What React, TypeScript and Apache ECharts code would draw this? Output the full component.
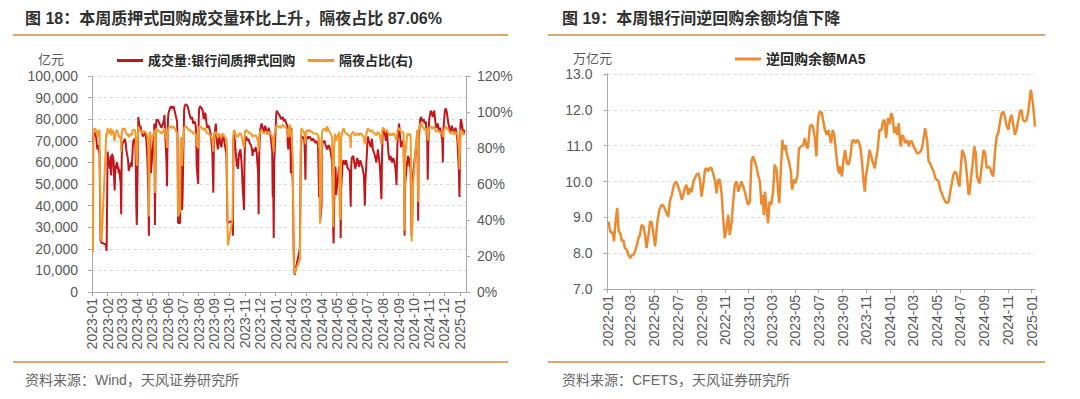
import React, { useEffect, useRef } from 'react';
import * as echarts from 'echarts';

// ---------- Figure 18: pledged repo volume (亿元) & overnight share (%) ----------
const repoDates: string[] = [
  '2023-01-03','2023-01-04','2023-01-05','2023-01-06','2023-01-09','2023-01-10','2023-01-11','2023-01-12','2023-01-13','2023-01-16','2023-01-17','2023-01-18','2023-01-19','2023-01-20','2023-01-28','2023-01-29','2023-01-30','2023-01-31',
  '2023-02-01','2023-02-02','2023-02-03','2023-02-06','2023-02-07','2023-02-08','2023-02-09','2023-02-10','2023-02-13','2023-02-14','2023-02-15','2023-02-16','2023-02-17','2023-02-20','2023-02-21','2023-02-22','2023-02-23','2023-02-24','2023-02-27','2023-02-28',
  '2023-03-01','2023-03-02','2023-03-03','2023-03-06','2023-03-07','2023-03-08','2023-03-09','2023-03-10','2023-03-13','2023-03-14','2023-03-15','2023-03-16','2023-03-17','2023-03-20','2023-03-21','2023-03-22','2023-03-23','2023-03-24','2023-03-27','2023-03-28','2023-03-29','2023-03-30','2023-03-31',
  '2023-04-03','2023-04-04','2023-04-06','2023-04-07','2023-04-10','2023-04-12','2023-04-14','2023-04-17','2023-04-19','2023-04-21','2023-04-23','2023-04-24','2023-04-25','2023-04-26','2023-04-27','2023-04-28',
  '2023-05-04','2023-05-05','2023-05-06','2023-05-08','2023-05-09','2023-05-10','2023-05-11','2023-05-15','2023-05-17','2023-05-19','2023-05-22','2023-05-24','2023-05-25','2023-05-26','2023-05-29','2023-05-30','2023-05-31',
  '2023-06-01','2023-06-02','2023-06-05','2023-06-07','2023-06-09','2023-06-12','2023-06-14','2023-06-16','2023-06-19','2023-06-20','2023-06-21','2023-06-25','2023-06-26','2023-06-27','2023-06-28','2023-06-29','2023-06-30',
  '2023-07-03','2023-07-04','2023-07-06','2023-07-10','2023-07-12','2023-07-14','2023-07-17','2023-07-19','2023-07-21','2023-07-24','2023-07-26','2023-07-27','2023-07-28','2023-07-31',
  '2023-08-01','2023-08-02','2023-08-04','2023-08-07','2023-08-09','2023-08-11','2023-08-14','2023-08-16','2023-08-18','2023-08-21','2023-08-23','2023-08-25','2023-08-28','2023-08-30','2023-08-31',
  '2023-09-01','2023-09-04','2023-09-06','2023-09-08','2023-09-11','2023-09-13','2023-09-15','2023-09-18','2023-09-20','2023-09-22','2023-09-25','2023-09-26','2023-09-27','2023-09-28',
  '2023-10-07','2023-10-08','2023-10-09','2023-10-10','2023-10-12','2023-10-13','2023-10-16','2023-10-17','2023-10-18','2023-10-20','2023-10-23','2023-10-25','2023-10-26','2023-10-27','2023-10-30','2023-10-31',
  '2023-11-01','2023-11-03','2023-11-06','2023-11-08','2023-11-10','2023-11-13','2023-11-15','2023-11-16','2023-11-17','2023-11-20','2023-11-22','2023-11-24','2023-11-27','2023-11-28','2023-11-29','2023-11-30',
  '2023-12-01','2023-12-04','2023-12-06','2023-12-08','2023-12-11','2023-12-13','2023-12-15','2023-12-18','2023-12-20','2023-12-22','2023-12-25','2023-12-26','2023-12-27','2023-12-28','2023-12-29',
  '2024-01-02','2024-01-03','2024-01-05','2024-01-08','2024-01-10','2024-01-12','2024-01-15','2024-01-17','2024-01-19','2024-01-22','2024-01-24','2024-01-25','2024-01-26','2024-01-29','2024-01-30','2024-01-31',
  '2024-02-01','2024-02-02','2024-02-04','2024-02-05','2024-02-06','2024-02-07','2024-02-08','2024-02-09','2024-02-18','2024-02-19','2024-02-20','2024-02-21','2024-02-23','2024-02-26','2024-02-27','2024-02-28','2024-02-29',
  '2024-03-01','2024-03-04','2024-03-06','2024-03-08','2024-03-11','2024-03-13','2024-03-15','2024-03-18','2024-03-20','2024-03-22','2024-03-25','2024-03-26','2024-03-27','2024-03-28','2024-03-29',
  '2024-04-01','2024-04-02','2024-04-03','2024-04-07','2024-04-09','2024-04-11','2024-04-12','2024-04-15','2024-04-17','2024-04-19','2024-04-22','2024-04-23','2024-04-24','2024-04-25','2024-04-26','2024-04-28','2024-04-29','2024-04-30',
  '2024-05-06','2024-05-07','2024-05-08','2024-05-09','2024-05-10','2024-05-13','2024-05-15','2024-05-17','2024-05-20','2024-05-22','2024-05-24','2024-05-27','2024-05-28','2024-05-29','2024-05-30','2024-05-31',
  '2024-06-03','2024-06-05','2024-06-07','2024-06-11','2024-06-13','2024-06-14','2024-06-17','2024-06-19','2024-06-21','2024-06-24','2024-06-25','2024-06-26','2024-06-27','2024-06-28',
  '2024-07-01','2024-07-02','2024-07-04','2024-07-08','2024-07-10','2024-07-12','2024-07-15','2024-07-17','2024-07-19','2024-07-22','2024-07-24','2024-07-26','2024-07-29','2024-07-30','2024-07-31',
  '2024-08-01','2024-08-05','2024-08-07','2024-08-09','2024-08-12','2024-08-14','2024-08-16','2024-08-19','2024-08-21','2024-08-23','2024-08-26','2024-08-28','2024-08-29','2024-08-30',
  '2024-09-02','2024-09-04','2024-09-06','2024-09-09','2024-09-11','2024-09-12','2024-09-13','2024-09-14','2024-09-18','2024-09-20','2024-09-23','2024-09-24','2024-09-25','2024-09-26','2024-09-27','2024-09-29','2024-09-30',
  '2024-10-08','2024-10-09','2024-10-10','2024-10-11','2024-10-14','2024-10-16','2024-10-18','2024-10-21','2024-10-23','2024-10-25','2024-10-28','2024-10-29','2024-10-30','2024-10-31',
  '2024-11-01','2024-11-04','2024-11-06','2024-11-08','2024-11-11','2024-11-13','2024-11-15','2024-11-18','2024-11-20','2024-11-22','2024-11-25','2024-11-27','2024-11-28','2024-11-29',
  '2024-12-02','2024-12-04','2024-12-06','2024-12-09','2024-12-11','2024-12-13','2024-12-16','2024-12-18','2024-12-20','2024-12-23','2024-12-25','2024-12-27','2024-12-30','2024-12-31',
  '2025-01-02','2025-01-03','2025-01-06','2025-01-08','2025-01-10',
];

const repoVolume: number[] = [
  70000,72000,73000,74000,72000,70000,67000,66000,68000,64000,45000,24000,23000,23000,22000,21000,19000,41000,
  65000,62000,60000,57000,63000,54000,58000,64000,61000,52000,47000,55000,58000,60000,57000,58000,55000,57000,50000,36000,
  62000,68000,69000,70000,71000,70000,69000,66000,62000,60000,56000,57000,58000,60000,58000,62000,67000,70000,71000,69000,60000,40000,31000,
  81000,79000,76000,77000,74000,72000,73000,74000,70000,62000,45000,26000,60000,72000,70000,55000,
  73000,78000,31000,76000,80000,79000,80000,78000,77000,76000,78000,80000,82000,76000,60000,49000,70000,
  80000,83000,85000,86000,85000,86000,84000,82000,79000,70000,32000,32000,55000,70000,60000,38000,45000,
  84000,86000,87000,86000,84000,82000,80000,81000,78000,79000,77000,72000,58000,50000,
  80000,85000,86000,85000,84000,80000,83000,79000,76000,77000,75000,73000,65000,46000,66000,
  72000,78000,70000,66000,72000,69000,67000,73000,71000,68000,64000,50000,33000,32000,
  33000,26000,70000,73000,70000,66000,58000,62000,57000,64000,66000,60000,56000,50000,38000,60000,
  70000,72000,70000,71000,69000,68000,66000,63000,66000,65000,67000,65000,55000,36000,62000,70000,
  75000,78000,76000,74000,77000,75000,73000,76000,74000,72000,65000,44000,50000,25000,60000,
  82000,84000,83000,82000,81000,80000,81000,79000,80000,78000,77000,68000,66000,77000,75000,55000,
  76000,60000,50000,30000,15000,9000,8000,10000,20000,45000,66000,71000,72000,71000,70000,62000,52000,
  70000,72000,71000,72000,71000,70000,71000,70000,69000,70000,68000,58000,44000,60000,32000,
  40000,66000,69000,70000,68000,67000,66000,68000,67000,65000,60000,52000,30000,22500,40000,58000,57000,45000,
  58000,50000,56000,25000,48000,60000,61000,59000,61000,58000,57000,56000,48000,39500,58000,62000,
  63000,60000,57000,62000,60000,58000,61000,59000,58000,54000,48000,40000,50000,55000,
  68000,72000,70000,67000,71000,66000,64000,62000,60000,66000,62000,58000,43000,60000,70000,
  76000,73000,70000,74000,64000,61000,63000,60000,62000,61000,57000,49500,62000,70000,
  78000,72000,67000,70000,68000,55000,26000,50000,60000,63000,58000,62000,55000,40000,26000,50000,55000,
  72000,60000,33000,70000,80000,81000,79000,80000,78000,79000,70000,52000,66000,75000,
  80000,84000,83000,81000,84000,79000,76000,78000,74000,76000,73000,70000,60000,75000,
  84000,85000,83000,78000,76000,74000,77000,75000,73000,76000,74000,70000,55000,44000,
  78000,80000,76000,73000,75000,
];

const overnightShare: number[] = [
  22,88,90,91,90,89,88,86,89,90,62,33,30,28,78,88,86,88,
  91,89,90,88,91,87,89,90,88,85,84,87,89,90,89,88,86,87,85,78,
  88,90,91,90,91,90,89,88,87,88,86,86,87,88,87,89,90,90,90,89,86,76,70,
  92,91,90,90,89,88,89,89,88,87,80,42,75,89,88,85,
  88,90,55,90,91,91,90,89,89,88,89,90,91,88,85,80,86,
  89,91,92,92,91,92,91,90,88,84,42,45,80,86,84,70,78,
  91,92,92,91,90,90,89,89,88,88,88,86,82,80,
  90,92,92,91,91,90,91,89,88,88,87,87,85,78,86,
  88,89,87,86,88,87,86,88,87,86,85,80,40,26,
  40,60,88,90,89,88,86,87,86,88,88,87,85,84,80,86,
  89,90,89,89,88,88,87,86,87,87,87,86,84,78,86,88,
  89,90,89,88,89,89,88,89,88,88,86,84,84,78,87,
  92,93,92,92,91,92,93,92,92,91,90,87,86,93,92,86,
  90,85,72,38,18,11,10,12,18,45,85,91,90,89,89,86,82,
  89,90,89,90,89,89,88,88,88,88,87,85,80,86,38,
  60,88,90,91,90,89,92,90,89,88,86,70,36,47,80,88,88,84,
  89,42,80,40,86,90,91,89,88,88,87,87,85,80,87,88,
  89,88,87,88,88,87,88,88,87,86,84,82,85,86,
  90,91,90,89,90,89,88,88,87,89,88,87,82,87,90,
  91,90,89,90,88,87,88,87,88,88,86,84,88,90,
  91,90,89,89,88,60,34,75,87,88,87,88,86,60,28,40,60,
  90,88,50,90,93,94,92,91,90,91,88,84,88,90,
  91,92,91,91,92,90,89,90,89,89,88,88,86,89,
  91,92,91,90,89,88,89,89,88,89,88,88,80,68,
  90,90,89,88,87.06,
];

const leftTickLabels: string[] = [
  '2023-01','2023-02','2023-03','2023-04','2023-05','2023-06','2023-07','2023-08','2023-09','2023-10','2023-11','2023-12',
  '2024-01','2024-02','2024-03','2024-04','2024-05','2024-06','2024-07','2024-08','2024-09','2024-10','2024-11','2024-12','2025-01',
];

// ---------- Figure 19: interbank reverse repo balance MA5 (万亿元) ----------
const revRepoDates: string[] = [
  '2022-01-04','2022-01-07','2022-01-11','2022-01-14','2022-01-18','2022-01-21','2022-01-26','2022-01-30','2022-02-03','2022-02-07','2022-02-11','2022-02-15','2022-02-20','2022-02-24',
  '2022-03-01','2022-03-05','2022-03-09','2022-03-13','2022-03-18','2022-03-22','2022-03-26','2022-03-30','2022-04-04','2022-04-08','2022-04-12','2022-04-17','2022-04-21','2022-04-25','2022-04-30',
  '2022-05-04','2022-05-10','2022-05-15','2022-05-21','2022-05-27','2022-06-01','2022-06-07','2022-06-11','2022-06-16','2022-06-22','2022-06-27',
  '2022-07-01','2022-07-07','2022-07-12','2022-07-16','2022-07-20','2022-07-24','2022-07-29','2022-08-02','2022-08-06','2022-08-11','2022-08-15','2022-08-19','2022-08-24','2022-08-28',
  '2022-09-01','2022-09-06','2022-09-10','2022-09-14','2022-09-18','2022-09-23','2022-09-27','2022-10-01','2022-10-06','2022-10-10','2022-10-14','2022-10-18','2022-10-23','2022-10-27','2022-10-31',
  '2022-11-05','2022-11-09','2022-11-13','2022-11-18','2022-11-22','2022-11-26','2022-12-01','2022-12-05','2022-12-09','2022-12-13','2022-12-18','2022-12-22','2022-12-26','2022-12-30',
  '2023-01-04','2023-01-08','2023-01-12','2023-01-17','2023-01-21','2023-01-25','2023-01-30','2023-02-03','2023-02-06','2023-02-09','2023-02-12','2023-02-16','2023-02-20','2023-02-24','2023-02-28',
  '2023-03-05','2023-03-09','2023-03-14','2023-03-18','2023-03-21','2023-03-24','2023-03-29','2023-04-02','2023-04-06','2023-04-10','2023-04-15','2023-04-20','2023-04-23','2023-04-28',
  '2023-05-02','2023-05-07','2023-05-11','2023-05-17','2023-05-22','2023-05-26','2023-05-30','2023-06-03','2023-06-08','2023-06-12','2023-06-16','2023-06-21','2023-06-25','2023-06-28',
  '2023-06-30','2023-07-04','2023-07-09','2023-07-13','2023-07-17','2023-07-22','2023-07-26','2023-07-30','2023-08-02','2023-08-06','2023-08-10','2023-08-14','2023-08-19','2023-08-23','2023-08-25','2023-08-30',
  '2023-09-03','2023-09-07','2023-09-12','2023-09-16','2023-09-21','2023-09-25','2023-09-29','2023-10-04','2023-10-08','2023-10-12','2023-10-17','2023-10-21','2023-10-25','2023-10-28','2023-10-31',
  '2023-11-06','2023-11-09','2023-11-14','2023-11-17','2023-11-23','2023-11-26','2023-11-30','2023-12-05','2023-12-10','2023-12-14','2023-12-18','2023-12-22','2023-12-27','2023-12-31',
  '2024-01-04','2024-01-08','2024-01-12','2024-01-16','2024-01-20','2024-01-24','2024-01-27','2024-01-29','2024-02-02','2024-02-06','2024-02-10','2024-02-15','2024-02-19','2024-02-23','2024-02-27',
  '2024-03-02','2024-03-07','2024-03-11','2024-03-15','2024-03-20','2024-03-24','2024-03-28','2024-04-01','2024-04-06','2024-04-10','2024-04-14','2024-04-19','2024-04-23','2024-04-27',
  '2024-05-01','2024-05-06','2024-05-10','2024-05-14','2024-05-19','2024-05-23','2024-05-28','2024-06-01','2024-06-05','2024-06-09','2024-06-13','2024-06-18','2024-06-22','2024-06-26','2024-06-29',
  '2024-07-03','2024-07-06','2024-07-11','2024-07-15','2024-07-19','2024-07-22','2024-07-24','2024-07-29','2024-08-02','2024-08-06','2024-08-10','2024-08-13','2024-08-17','2024-08-20','2024-08-23','2024-08-27','2024-08-30',
  '2024-09-03','2024-09-07','2024-09-11','2024-09-16','2024-09-20','2024-09-24','2024-09-29','2024-10-03','2024-10-07','2024-10-11','2024-10-16','2024-10-20','2024-10-24','2024-10-28',
  '2024-11-02','2024-11-06','2024-11-10','2024-11-15','2024-11-19','2024-11-23','2024-11-28','2024-12-02','2024-12-06','2024-12-10','2024-12-15','2024-12-19','2024-12-23','2024-12-28','2024-12-30',
  '2025-01-03','2025-01-07','2025-01-10',
];

const revRepoBalance: number[] = [
  8.88,8.65,8.56,8.6,8.33,8.79,9.26,8.6,8.56,8.33,8.37,8.14,8.09,7.95,
  7.86,7.95,7.95,8.05,8.23,8.42,8.51,8.79,8.74,8.51,8.14,8.51,8.88,8.88,8.51,
  8.19,8.88,9.21,9.35,9.3,9.16,9.02,9.44,9.63,9.91,10.0,
  9.91,9.72,9.49,9.63,9.82,9.91,9.63,9.82,9.7,10.0,10.1,10.19,10.23,10.05,
  9.58,9.95,10.33,10.37,10.28,10.39,10.37,10.23,10.0,9.67,10.05,10.05,9.67,8.98,8.42,
  8.7,9.07,8.51,8.88,9.44,9.91,10.0,9.72,9.86,10.0,9.86,9.72,9.53,9.35,
  9.44,10.56,10.7,10.56,10.42,10.19,10.0,9.35,9.63,9.07,9.72,9.26,8.84,9.44,9.35,
  9.72,10.47,10.33,9.72,9.4,10.1,11.16,10.88,11.02,10.74,10.56,10.28,9.77,10.05,
  9.95,10.19,10.93,10.98,11.02,11.21,10.98,10.93,11.53,11.58,11.53,11.21,10.7,11.53,
  11.81,11.95,11.91,11.67,11.44,11.3,11.44,11.21,11.07,11.44,11.3,10.88,10.37,10.23,10.42,10.14,
  10.6,10.88,10.51,10.47,10.7,11.12,11.16,11.07,11.16,11.12,10.93,10.51,10.0,9.72,10.14,
  10.56,10.88,10.7,10.56,10.37,10.6,10.88,11.44,11.44,11.67,11.72,11.21,11.77,11.6,
  11.91,11.81,11.35,11.53,11.3,11.63,11.12,10.98,11.3,11.21,11.07,11.16,10.98,11.12,11.12,
  10.98,10.88,10.79,10.79,10.84,10.93,11.21,11.49,11.16,10.56,10.51,10.37,10.28,10.1,
  10.05,10.0,9.77,9.67,9.53,9.44,9.4,9.44,9.72,9.95,10.19,10.28,10.19,9.95,9.86,
  10.51,10.88,10.74,10.51,10.05,9.67,9.63,10.14,10.51,10.98,10.79,10.14,10.0,9.95,10.23,10.6,10.88,
  10.79,10.37,10.42,10.37,10.23,10.14,10.88,11.26,11.35,11.63,11.91,11.95,11.81,11.58,
  11.44,11.72,11.86,11.58,11.3,11.44,11.72,11.95,12.0,11.72,11.67,11.72,11.91,12.37,12.56,
  12.3,11.91,11.53,
];

const rightTickLabels: string[] = [
  '2022-01','2022-03','2022-05','2022-07','2022-09','2022-11','2023-01','2023-03','2023-05','2023-07','2023-09','2023-11',
  '2024-01','2024-03','2024-05','2024-07','2024-09','2024-11','2025-01',
];

// ---------- helpers ----------
const ts = (s: string): number => {
  const [y, m, d] = s.split('-').map(Number);
  return new Date(y, m - 1, d || 1).getTime();
};
const monthFmt = (v: number): string => {
  const d = new Date(v);
  return d.getFullYear() + '-' + String(d.getMonth() + 1).padStart(2, '0');
};
const commas = (v: number): string => String(Math.round(v)).replace(/\B(?=(\d{3})+(?!\d))/g, ',');

const FONT = '"Liberation Sans", Arial, "Noto Sans CJK SC", sans-serif';
const AXIS = '#a9a9a9';
const LABEL = '#595959';
const GRID = '#d9d9d9';
const RED = '#c3161c';
const ORANGE = '#f39a2b';
const MA_ORANGE = '#ec8a2f';
const RULE = '#d6a96e';

export default function App() {
  const ref = useRef<HTMLDivElement>(null);

  useEffect(() => {
    if (!ref.current) return;
    const chart = echarts.init(ref.current, undefined, { renderer: 'svg' });

    const leftTicks = leftTickLabels.map((s) => ts(s));
    const rightTicks = rightTickLabels.map((s) => ts(s));

    const xCommon = (ticks: number[]) => ({
      type: 'value' as const,
      scale: true,
      axisLine: { show: true, onZero: false, lineStyle: { color: AXIS, width: 1 } },
      axisTick: { show: true, customValues: ticks, length: 4, lineStyle: { color: AXIS } },
      axisLabel: {
        customValues: ticks,
        rotate: 90,
        margin: 6,
        fontSize: 14,
        color: LABEL,
        fontFamily: FONT,
        formatter: (v: number) => monthFmt(v),
      },
      splitLine: { show: false },
    });

    const titleText = (x: number, text: string) => ({
      type: 'text',
      x,
      y: 18,
      style: { text, fill: '#303030', fontSize: 16, fontWeight: 'bold', fontFamily: FONT, verticalAlign: 'middle' },
    });
    const footText = (x: number, text: string) => ({
      type: 'text',
      x,
      y: 380,
      style: { text, fill: '#666666', fontSize: 14, fontFamily: FONT, verticalAlign: 'middle' },
    });
    const rule = (x1: number, x2: number, y: number) => ({
      type: 'line',
      shape: { x1, y1: y, x2, y2: y },
      style: { stroke: RULE, lineWidth: 2 },
    });

    const legendBase = {
      icon: 'rect',
      itemWidth: 26,
      itemHeight: 3,
      padding: 0,
      itemGap: 10,
      textStyle: { fontSize: 13, fontWeight: 'bold', color: '#262626', fontFamily: FONT },
    };

    chart.setOption({
      animation: false,
      backgroundColor: '#ffffff',
      textStyle: { fontFamily: FONT },
      graphic: [
        titleText(25, '图 18：本周质押式回购成交量环比上升，隔夜占比 87.06%'),
        titleText(562, '图 19：本周银行间逆回购余额均值下降'),
        rule(13, 508, 35),
        rule(548, 1045, 35),
        rule(13, 508, 362),
        rule(548, 1045, 362),
        footText(25, '资料来源：Wind，天风证券研究所'),
        footText(562, '资料来源：CFETS，天风证券研究所'),
        { type: 'text', x: 38, y: 59, style: { text: '亿元', fill: LABEL, fontSize: 13, fontFamily: FONT, verticalAlign: 'middle' } },
        { type: 'text', x: 573, y: 58, style: { text: '万亿元', fill: LABEL, fontSize: 13, fontFamily: FONT, verticalAlign: 'middle' } },
      ],
      legend: [
        { ...legendBase, left: 117, top: 54, data: ['成交量:银行间质押式回购'] },
        { ...legendBase, left: 308, top: 54, data: ['隔夜占比(右)'] },
        { ...legendBase, left: 735, top: 52, data: ['逆回购余额MA5'], textStyle: { ...legendBase.textStyle, fontSize: 14 } },
      ],
      grid: [
        { left: 92, top: 76, width: 374, height: 216 },
        { left: 607.5, top: 74, width: 427.5, height: 215 },
      ],
      xAxis: [
        { ...xCommon(leftTicks), gridIndex: 0, min: ts('2023-01-01'), max: ts('2025-01-13') },
        { ...xCommon(rightTicks), gridIndex: 1, min: ts('2022-01-01'), max: ts('2025-01-10') },
      ],
      yAxis: [
        {
          type: 'value', gridIndex: 0, min: 0, max: 100000, interval: 10000,
          axisLine: { show: true, lineStyle: { color: AXIS } },
          axisTick: { show: true, length: 4, lineStyle: { color: AXIS } },
          axisLabel: { margin: 14, fontSize: 14, color: LABEL, fontFamily: FONT, formatter: (v: number) => commas(v) },
          splitLine: { show: true, lineStyle: { color: GRID, type: [3, 3], width: 1 } },
        },
        {
          type: 'value', gridIndex: 0, position: 'right', min: 0, max: 120, interval: 20,
          axisLine: { show: true, lineStyle: { color: AXIS } },
          axisTick: { show: true, length: 4, lineStyle: { color: AXIS } },
          axisLabel: { margin: 11, fontSize: 14, color: LABEL, fontFamily: FONT, formatter: '{value}%' },
          splitLine: { show: false },
        },
        {
          type: 'value', gridIndex: 1, min: 7, max: 13, interval: 1,
          axisLine: { show: true, lineStyle: { color: AXIS } },
          axisTick: { show: true, length: 4, lineStyle: { color: AXIS } },
          axisLabel: { margin: 15, fontSize: 14, color: LABEL, fontFamily: FONT, formatter: (v: number) => v.toFixed(1) },
          splitLine: { show: true, lineStyle: { color: GRID, type: [3, 3], width: 1 } },
        },
      ],
      series: [
        {
          name: '成交量:银行间质押式回购',
          type: 'line',
          xAxisIndex: 0,
          yAxisIndex: 0,
          showSymbol: false,
          symbol: 'none',
          color: RED,
          lineStyle: { color: RED, width: 2 },
          data: repoDates.map((d, i) => [ts(d), repoVolume[i]]),
        },
        {
          name: '隔夜占比(右)',
          type: 'line',
          xAxisIndex: 0,
          yAxisIndex: 1,
          showSymbol: false,
          symbol: 'none',
          color: ORANGE,
          lineStyle: { color: ORANGE, width: 2 },
          data: repoDates.map((d, i) => [ts(d), overnightShare[i]]),
        },
        {
          name: '逆回购余额MA5',
          type: 'line',
          xAxisIndex: 1,
          yAxisIndex: 2,
          showSymbol: false,
          symbol: 'none',
          color: MA_ORANGE,
          lineStyle: { color: MA_ORANGE, width: 2.5 },
          data: revRepoDates.map((d, i) => [ts(d), revRepoBalance[i]]),
        },
      ],
    });

    return () => chart.dispose();
  }, []);

  return (
    <div
      ref={ref}
      style={{ position: 'fixed', left: 0, top: 0, width: 1080, height: 399, background: '#ffffff' }}
    />
  );
}
